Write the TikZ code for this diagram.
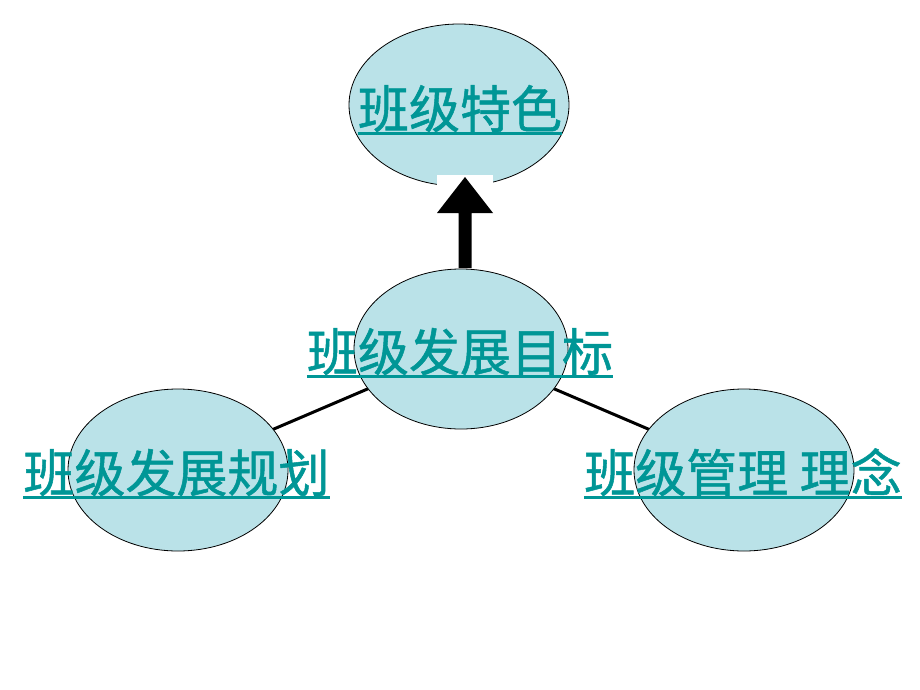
\documentclass[tikz,border=0pt]{standalone}
\usepackage{fontspec}
\newfontfamily\cjk[FakeBold=1]{Noto Sans CJK SC}
\usetikzlibrary{shapes.geometric}
\pgfdeclarelayer{bg}
\pgfsetlayers{bg,main}
\definecolor{ellfill}{RGB}{186,226,232}
\definecolor{txtteal}{RGB}{0,150,150}
\begin{document}
\begin{tikzpicture}[x=1pt,y=-1pt,
  bubble/.style={ellipse, draw=black, line width=0.8pt, fill=ellfill, minimum width=220pt, minimum height=162pt, inner sep=0pt},
  label/.style={text=txtteal, font=\cjk\fontsize{51}{51}\selectfont, inner sep=0pt, anchor=base},
  link/.style={line width=3pt, black},
  uline/.style={line width=3pt, txtteal}]
\useasboundingbox (0,0) rectangle (920,690);
% ellipses
\node[bubble, minimum width=214pt, minimum height=160pt] (mid) at (461,349) {};
\node[bubble] (left) at (178,470) {};
\node[bubble] (right) at (744,470) {};
\begin{pgfonlayer}{bg}
  \node[bubble] (top) at (459,105) {};
  \draw[link] (mid.center) -- (left.center);
  \draw[link] (mid.center) -- (right.center);
  % white band and arrow
  \fill[white] (437,175) rectangle (493,272);
  \coordinate (abase) at (465,268);
  \coordinate (atip) at (465,177);
  \fill[black] ([xshift=-6.5pt]abase) -- ([xshift=-6.5pt]abase |- 0,213) -- (437,213) -- (atip) -- (493,213) -- ([xshift=6.5pt]abase |- 0,213) -- ([xshift=6.5pt]abase) -- cycle;
\end{pgfonlayer}
% labels
\node[label] (ttop) at (460,128) {班级特色};
\node[label] (tmid) at (460,371) {班级发展目标};
\node[label] (tleft) at (176.5,492) {班级发展规划};
\node[label] (tright) at (743,492) {班级管理 理念};
\foreach \t in {ttop,tmid,tleft,tright}{
  \draw[uline] ([yshift=-5pt]\t.base west) -- ([yshift=-5pt]\t.base east);
}
\end{tikzpicture}
\end{document}
